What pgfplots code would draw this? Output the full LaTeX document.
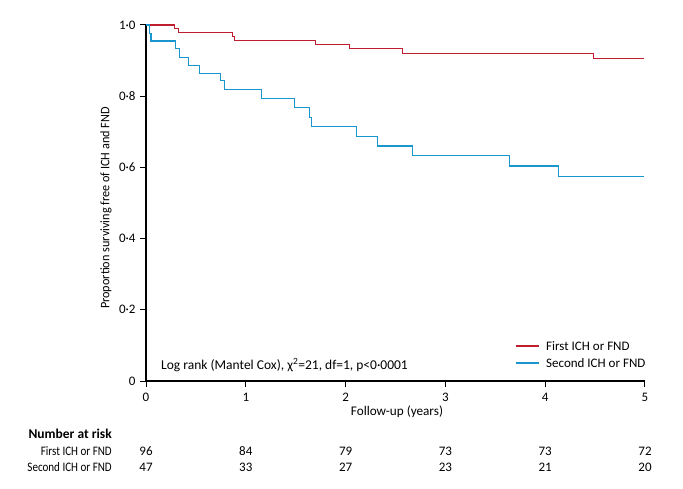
\documentclass[border=0pt]{standalone}
\usepackage{fontspec}
\setmainfont{Carlito}
\newfontfamily\condtab[FakeStretch=0.85]{Carlito}
\newfontfamily\condylab[FakeStretch=0.94]{Carlito}
\usepackage{pgfplots}
\pgfplotsset{compat=1.18}
\definecolor{kmred}{RGB}{190,30,45}
\definecolor{kmblue}{RGB}{25,150,205}
\begin{document}
\fontsize{13pt}{15pt}\selectfont
\begin{tikzpicture}[x=1pt,y=1pt]
\useasboundingbox (0,0) rectangle (683,488);
\begin{axis}[
  at={(146pt,107pt)}, anchor=south west,
  scale only axis, width=499pt, height=356pt,
  xmin=0, xmax=5, ymin=0, ymax=1,
  axis x line*=bottom, axis y line*=left,
  axis line style={line width=1.1pt, black},
  tick align=outside, major tick length=6pt,
  tick style={line width=1pt, black},
  xtick={0,1,2,3,4,5},
  ytick={0,0.2,0.4,0.6,0.8,1},
  yticklabels={0,0·2,0·4,0·6,0·8,1·0},
  /pgf/number format/assume math mode=true,
  tick label style={font=\fontsize{13pt}{15pt}\selectfont},
  xticklabel style={yshift=-2pt},
  clip=false,
]
\addplot[const plot, color=kmred, line width=1.1pt] coordinates {
 (0,1) (0.29,0.989) (0.33,0.978) (0.865,0.967) (0.885,0.956) (1.70,0.945)
 (2.04,0.933) (2.57,0.920) (4.48,0.906) (4.99,0.906)};
\addplot[const plot, color=kmblue, line width=1.1pt] coordinates {
 (0,1) (0.033,0.977) (0.05,0.955) (0.30,0.933) (0.34,0.909) (0.43,0.887)
 (0.54,0.865) (0.75,0.843) (0.79,0.818) (1.16,0.793) (1.49,0.767) (1.64,0.741)
 (1.66,0.714) (2.11,0.687) (2.32,0.660) (2.67,0.633) (3.64,0.604) (4.13,0.574)
 (4.99,0.574)};
\end{axis}
% axis labels
\node[rotate=90, font=\fontsize{13pt}{15pt}\condylab] at (106,280) {Proportion surviving free of ICH and FND};
\node[font=\fontsize{13.2pt}{15pt}\selectfont] at (397,76) {Follow-up (years)};
% annotation
\node[anchor=west, inner sep=0pt, font=\fontsize{13.5pt}{15pt}\selectfont] at (161,123) {Log rank (Mantel Cox), χ\textsuperscript{2}=21, df=1, p<0·0001};
% legend
\draw[kmred, line width=1.1pt] (516,142) -- (539,142);
\node[anchor=west, inner sep=0pt] at (546,142) {First ICH or FND};
\draw[kmblue, line width=1.1pt] (516,125) -- (539,125);
\node[anchor=west, inner sep=0pt] at (546,125) {Second ICH or FND};
% number at risk
\node[anchor=east, inner sep=0pt, font=\fontsize{13.5pt}{15pt}\selectfont\bfseries] at (112,54) {Number at risk};
\node[anchor=east, inner sep=0pt, font=\fontsize{13pt}{15pt}\condtab] at (112,37) {First ICH or FND};
\node[anchor=east, inner sep=0pt, font=\fontsize{13pt}{15pt}\condtab] at (112,21) {Second ICH or FND};
\foreach \v [count=\i from 0] in {96,84,79,73,73,72} {
  \node[inner sep=0pt, font=\fontsize{13pt}{15pt}\selectfont] at ({146+99.8*\i},37) {\v};
}
\foreach \v [count=\i from 0] in {47,33,27,23,21,20} {
  \node[inner sep=0pt, font=\fontsize{13pt}{15pt}\selectfont] at ({146+99.8*\i},21) {\v};
}
\end{tikzpicture}
\end{document}
